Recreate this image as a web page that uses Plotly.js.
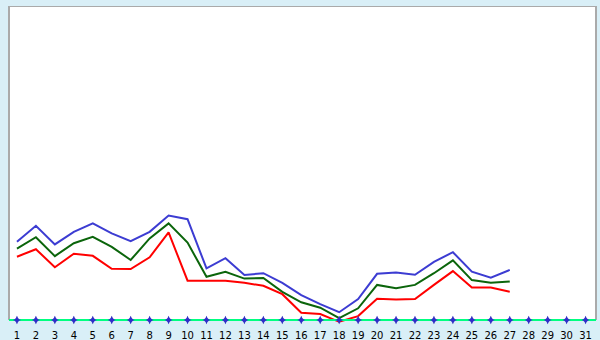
<!DOCTYPE html>
<html>
<head>
<meta charset="utf-8">
<script src="https://cdn.plot.ly/plotly-3.0.1.min.js"></script>
<style>html,body{margin:0;padding:0;background:#d9eff7;}#chart{width:600px;height:340px;}</style>
</head>
<body>
<div id="chart"></div>
<script>
var days = [];
for (var d = 1; d <= 31; d++) days.push(d);
var dataDays = days.slice(0, 27);
var blueValues = [26.1, 31.4, 25.2, 29.4, 32.2, 28.9, 26.3, 29.4, 34.8, 33.6, 17.2, 20.6, 15.0, 15.6, 12.4, 8.3, 5.3, 2.6, 7.0, 15.4, 15.8, 15.1, 19.4, 22.6, 16.1, 14.1, 16.7];
var greenValues = [23.8, 27.6, 21.3, 25.6, 27.7, 24.4, 20.0, 27.2, 32.2, 25.8, 14.4, 16.1, 13.8, 14.0, 9.4, 5.9, 4.1, 0.6, 3.9, 11.7, 10.6, 11.7, 15.6, 19.9, 13.3, 12.4, 12.8];
var redValues = [21.1, 23.6, 17.6, 22.1, 21.4, 17.1, 17.0, 20.9, 29.2, 13.1, 13.1, 13.1, 12.4, 11.4, 8.6, 2.4, 2.0, -0.6, 1.3, 7.1, 6.8, 7.0, 11.7, 16.3, 10.8, 10.8, 9.4];
var baseline = days.map(function(){ return 0; });

var yTop = 104.67;
var traces = [
  {x: dataDays, y: blueValues, type: 'scatter', mode: 'lines', line: {color: '#3c3cd2', width: 2}, hoverinfo: 'none'},
  {x: dataDays, y: greenValues, type: 'scatter', mode: 'lines', line: {color: '#0b650b', width: 2}, hoverinfo: 'none'},
  {x: dataDays, y: redValues, type: 'scatter', mode: 'lines', line: {color: '#ff0000', width: 2}, hoverinfo: 'none'},
  {x: [0.58, 31.55], y: [0, 0], type: 'scatter', mode: 'lines', line: {color: '#00ff80', width: 2}, hoverinfo: 'none', cliponaxis: false},
  {x: days, y: baseline, type: 'scatter', mode: 'markers', marker: {symbol: 'line-ns-open', size: 5, line: {color: '#000000', width: 1}}, hoverinfo: 'none', cliponaxis: false},
  {x: days, y: baseline, type: 'scatter', mode: 'markers', marker: {symbol: 'star-diamond', size: 6, color: '#2e2ec8', line: {width: 0}}, hoverinfo: 'none', cliponaxis: false}
];
var layout = {
  width: 600, height: 340,
  margin: {l: 9, r: 4, t: 6, b: 16, pad: 0},
  paper_bgcolor: '#d9eff7',
  plot_bgcolor: '#d9eff7',
  showlegend: false,
  font: {family: 'DejaVu Sans, sans-serif', size: 10, color: '#000000'},
  xaxis: {range: [0.58, 31.55], tickvals: days, ticktext: days.map(String), showgrid: false, zeroline: false, showline: false, ticks: 'outside', ticklen: 2, tickcolor: 'rgba(0,0,0,0)', tickfont: {family: 'DejaVu Sans', size: 10, color: '#000'}, fixedrange: true},
  yaxis: {range: [-1.33, yTop], showgrid: false, zeroline: false, showline: false, showticklabels: false, ticks: '', fixedrange: true},
  shapes: [
    {type: 'rect', xref: 'paper', yref: 'y', x0: 0, x1: 1, y0: 0, y1: yTop, fillcolor: '#ffffff', line: {width: 0}, layer: 'below'},
    {type: 'line', xref: 'paper', yref: 'y', x0: 0, x1: 0, y0: 0, y1: yTop, line: {color: '#aaaaaa', width: 2}, layer: 'below'},
    {type: 'line', xref: 'paper', yref: 'y', x0: 0, x1: 1, y0: yTop, y1: yTop, line: {color: '#aaaaaa', width: 2}, layer: 'below'},
    {type: 'line', xref: 'paper', yref: 'y', x0: 1, x1: 1, y0: 0, y1: yTop, line: {color: '#aaaaaa', width: 2}, layer: 'below'}
  ]
};
Plotly.newPlot('chart', traces, layout, {staticPlot: true, displayModeBar: false});
</script>
</body>
</html>
